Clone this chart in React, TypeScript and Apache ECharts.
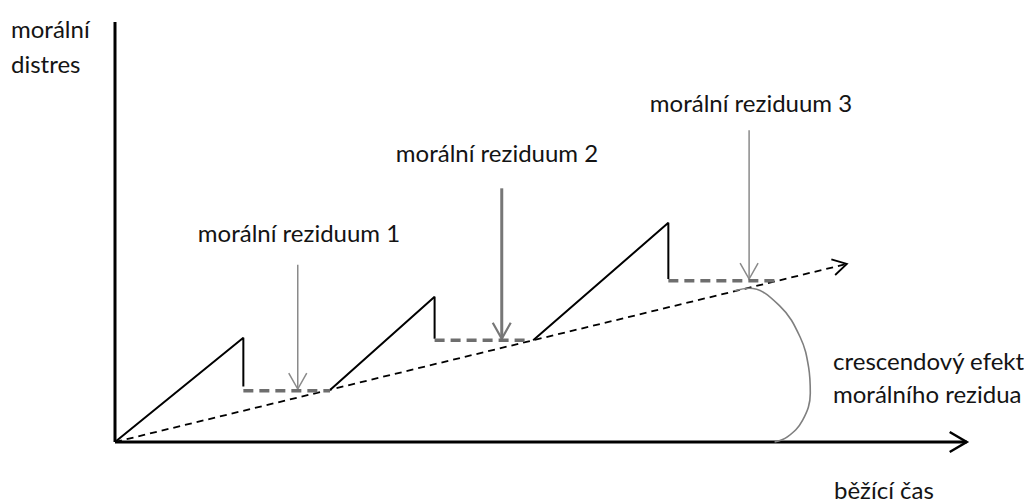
import React, { useEffect, useRef } from "react";
import * as echarts from "echarts";

// Data in abstract units: x = running time (0..100), y = moral distress (0..50)
const tooth1: number[][] = [[0, 0], [15.1, 12.4], [15.1, 6.6]];
const tooth2: number[][] = [[25.3, 6.2], [37.6, 17.3], [37.6, 12.3]];
const tooth3: number[][] = [[49.2, 12.1], [65.1, 26.1], [65.1, 19.4]];
const residue1: number[][] = [[15.1, 6.1], [25.3, 6.1]];
const residue2: number[][] = [[37.6, 12.1], [48.8, 12.1]];
const residue3: number[][] = [[65.1, 19.2], [77.6, 19.2]];
// trend (crescendo) arrow: [x1, y1, x2, y2]
const trendArrow: number[][] = [[0, 0, 86.1, 21.2]];
// pointers to residues: [x, yTop, x, yTip]
const thinPointers: number[][] = [[21.5, 21.1, 21.5, 6.3], [74.6, 37.1, 74.6, 19.4]];
const thickPointers: number[][] = [[45.5, 30.2, 45.5, 12.3]];
// crescendo bracket curve
const bracket: number[][] = [
  [72.9, 18.0], [74.6, 18.3], [78.2, 16.2], [80.6, 12.5], [81.6, 8.9],
  [81.8, 5.8], [80.9, 2.6], [79.1, 0.6], [77.6, 0],
];
const xAxisArrow: number[][] = [[0, 0, 100.2, 0]];
const yAxisLine: number[][] = [[0, 0], [0, 50]];

const residueLabels = ["morální reziduum 1", "morální reziduum 2", "morální reziduum 3"];
const yTitle = ["morální", "distres"];
const xTitle = "běžící čas";
const effectLabel = ["crescendový efekt", "morálního rezidua"];

const FONT = '24px Lato, "Noto Sans", sans-serif';
const TXT = "#141414";

function arrowRenderer(o: { color: string; width: number; headLen: number; headHalf: number; headWidth: number; dash?: number[] }) {
  return (params: any, api: any) => {
    const p1 = api.coord([api.value(0), api.value(1)]);
    const p2 = api.coord([api.value(2), api.value(3)]);
    const dx = p2[0] - p1[0];
    const dy = p2[1] - p1[1];
    const len = Math.hypot(dx, dy) || 1;
    const ux = dx / len;
    const uy = dy / len;
    const bx = p2[0] - ux * o.headLen;
    const by = p2[1] - uy * o.headLen;
    const nx = -uy;
    const ny = ux;
    return {
      type: "group",
      children: [
        {
          type: "line",
          shape: { x1: p1[0], y1: p1[1], x2: p2[0], y2: p2[1] },
          style: { stroke: o.color, lineWidth: o.width, lineDash: o.dash || null },
        },
        {
          type: "polyline",
          shape: {
            points: [
              [bx + nx * o.headHalf, by + ny * o.headHalf],
              [p2[0], p2[1]],
              [bx - nx * o.headHalf, by - ny * o.headHalf],
            ],
          },
          style: { stroke: o.color, lineWidth: o.headWidth, fill: "none" },
        },
      ],
    };
  };
}

function lineSeries(data: number[][], color: string, width: number, type: any = "solid", smooth: any = false) {
  return {
    type: "line",
    data,
    symbol: "none",
    smooth,
    clip: false,
    silent: true,
    lineStyle: { color, width, type, cap: "butt" },
  };
}

function text(t: string, x: number, y: number, align: string) {
  return {
    type: "text",
    x,
    y,
    style: { text: t, font: FONT, fill: TXT, textAlign: align, textVerticalAlign: "middle" },
  };
}

export default function App() {
  const ref = useRef<HTMLDivElement>(null);
  useEffect(() => {
    if (!ref.current) return;
    const chart = echarts.init(ref.current, undefined, { renderer: "svg" });
    chart.setOption({
      animation: false,
      backgroundColor: "#ffffff",
      grid: { left: 115, top: 22, width: 850, height: 420 },
      xAxis: { type: "value", min: 0, max: 100, show: false },
      yAxis: { type: "value", min: 0, max: 50, show: false },
      series: [
        lineSeries(yAxisLine, "#000", 3),
        {
          type: "custom",
          data: xAxisArrow,
          encode: { x: [0, 2], y: [1, 3] },
          renderItem: arrowRenderer({ color: "#000", width: 3, headLen: 17, headHalf: 10, headWidth: 2.5 }),
          silent: true,
        },
        {
          type: "custom",
          data: trendArrow,
          encode: { x: [0, 2], y: [1, 3] },
          renderItem: arrowRenderer({ color: "#000", width: 1.8, headLen: 14, headHalf: 8, headWidth: 1.8, dash: [7, 5] }),
          silent: true,
        },
        lineSeries(tooth1, "#000", 2),
        lineSeries(tooth2, "#000", 2),
        lineSeries(tooth3, "#000", 2),
        lineSeries(residue1, "#6e6e6e", 3.5, [10, 6]),
        lineSeries(residue2, "#6e6e6e", 3.5, [10, 6]),
        lineSeries(residue3, "#6e6e6e", 3.5, [10, 6]),
        {
          type: "custom",
          data: thinPointers,
          encode: { x: [0, 2], y: [1, 3] },
          renderItem: arrowRenderer({ color: "#8a8a8a", width: 1.5, headLen: 16, headHalf: 9, headWidth: 1.5 }),
          silent: true,
        },
        {
          type: "custom",
          data: thickPointers,
          encode: { x: [0, 2], y: [1, 3] },
          renderItem: arrowRenderer({ color: "#777777", width: 3, headLen: 16, headHalf: 9, headWidth: 2.2 }),
          silent: true,
        },
        lineSeries(bracket, "#7f7f7f", 1.6, "solid", 0.4),
      ],
      graphic: [
        text(yTitle[0], 11, 28, "left"),
        text(yTitle[1], 11, 63, "left"),
        text(residueLabels[0], 299, 232, "center"),
        text(residueLabels[1], 497, 152, "center"),
        text(residueLabels[2], 751, 102, "center"),
        text(effectLabel[0], 833, 360, "left"),
        text(effectLabel[1], 833, 393, "left"),
        text(xTitle, 834, 489, "left"),
      ],
    });
    return () => chart.dispose();
  }, []);
  return (
    <div
      ref={ref}
      style={{ position: "fixed", left: 0, top: 0, width: 1024, height: 502, background: "#fff" }}
    />
  );
}
